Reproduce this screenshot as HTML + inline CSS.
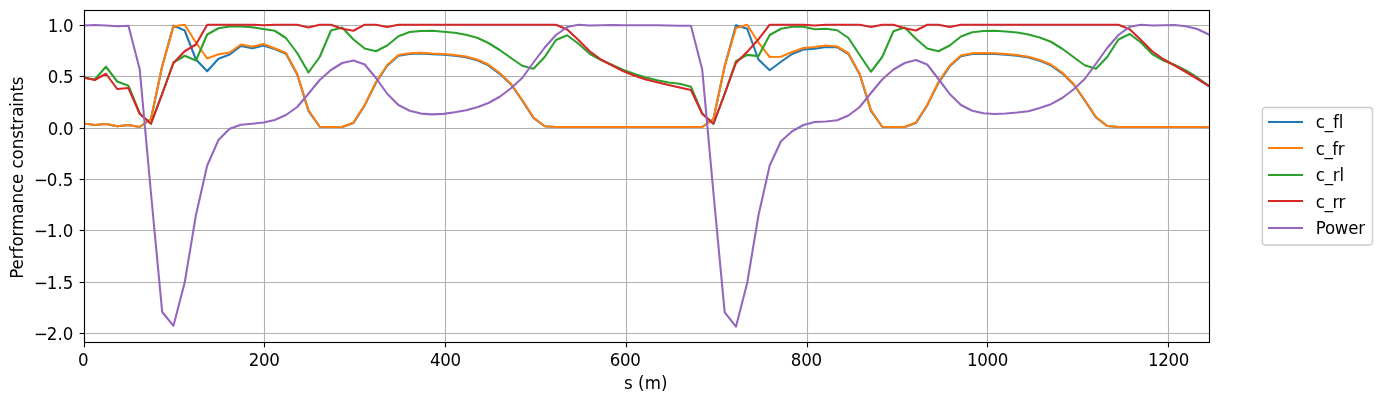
<!DOCTYPE html>
<html lang="en"><head><meta charset="utf-8"><title>Performance constraints</title>
<style>html,body{margin:0;padding:0;background:#fff;}body{width:1382px;height:403px;overflow:hidden;}svg{display:block;}text{font-family:"DejaVu Sans","Liberation Sans",sans-serif;font-size:16.667px;fill:#000;}</style>
</head><body>
<svg width="1382" height="403" viewBox="0 0 1382 403">
<rect x="0" y="0" width="1382" height="403" fill="#ffffff"/>
<defs><clipPath id="ax"><rect x="84.50" y="10.50" width="1125.00" height="332.00"/></clipPath></defs>
<g stroke="#b0b0b0" stroke-width="1.111" fill="none">
<line x1="84.50" y1="10.50" x2="84.50" y2="342.50"/>
<line x1="264.50" y1="10.50" x2="264.50" y2="342.50"/>
<line x1="445.50" y1="10.50" x2="445.50" y2="342.50"/>
<line x1="626.50" y1="10.50" x2="626.50" y2="342.50"/>
<line x1="807.50" y1="10.50" x2="807.50" y2="342.50"/>
<line x1="987.50" y1="10.50" x2="987.50" y2="342.50"/>
<line x1="1168.50" y1="10.50" x2="1168.50" y2="342.50"/>
<line x1="84.50" y1="25.50" x2="1209.50" y2="25.50"/>
<line x1="84.50" y1="76.50" x2="1209.50" y2="76.50"/>
<line x1="84.50" y1="128.50" x2="1209.50" y2="128.50"/>
<line x1="84.50" y1="179.50" x2="1209.50" y2="179.50"/>
<line x1="84.50" y1="230.50" x2="1209.50" y2="230.50"/>
<line x1="84.50" y1="282.50" x2="1209.50" y2="282.50"/>
<line x1="84.50" y1="333.50" x2="1209.50" y2="333.50"/>
</g>
<g stroke="#000" stroke-width="1.111" fill="none">
<line x1="84.50" y1="342.50" x2="84.50" y2="347.36"/>
<line x1="264.50" y1="342.50" x2="264.50" y2="347.36"/>
<line x1="445.50" y1="342.50" x2="445.50" y2="347.36"/>
<line x1="626.50" y1="342.50" x2="626.50" y2="347.36"/>
<line x1="807.50" y1="342.50" x2="807.50" y2="347.36"/>
<line x1="987.50" y1="342.50" x2="987.50" y2="347.36"/>
<line x1="1168.50" y1="342.50" x2="1168.50" y2="347.36"/>
<line x1="79.64" y1="25.50" x2="84.50" y2="25.50"/>
<line x1="79.64" y1="76.50" x2="84.50" y2="76.50"/>
<line x1="79.64" y1="128.50" x2="84.50" y2="128.50"/>
<line x1="79.64" y1="179.50" x2="84.50" y2="179.50"/>
<line x1="79.64" y1="230.50" x2="84.50" y2="230.50"/>
<line x1="79.64" y1="282.50" x2="84.50" y2="282.50"/>
<line x1="79.64" y1="333.50" x2="84.50" y2="333.50"/>
</g>
<g clip-path="url(#ax)" fill="none" stroke-width="2.083" stroke-linejoin="round" stroke-linecap="square">
<polyline stroke="#1f77b4" points="83.45,123.40 94.70,125.00 105.95,124.00 117.20,126.25 128.45,125.00 139.70,127.00 150.95,119.00 162.20,66.25 173.45,25.60 184.70,30.50 195.95,59.50 207.20,71.25 218.45,58.75 229.70,54.50 240.95,46.00 252.20,48.25 263.45,45.50 274.70,49.05 285.95,53.80 297.20,74.55 308.45,110.80 319.70,126.75 330.95,127.00 342.20,127.00 353.45,122.90 364.70,105.40 375.95,82.80 387.20,65.80 398.45,55.80 409.70,54.05 420.95,53.55 432.20,54.30 443.45,54.80 454.70,55.80 465.95,57.30 477.20,60.30 488.45,65.30 499.70,73.80 510.95,84.15 522.20,100.40 533.45,117.90 544.70,126.25 555.95,127.00 567.20,127.00 578.45,127.00 589.70,127.00 600.95,127.00 612.20,127.00 623.45,127.00 634.70,127.00 645.95,127.00 657.20,127.00 668.45,127.00 679.70,127.00 690.95,127.00 702.20,127.00 713.45,119.00 724.70,66.25 735.95,25.25 747.20,28.75 758.45,59.50 769.70,70.25 780.95,61.75 792.20,54.00 803.45,49.50 814.70,48.75 825.95,47.00 837.20,47.30 848.45,54.05 859.70,74.55 870.95,110.80 882.20,126.75 893.45,127.00 904.70,127.00 915.95,122.90 927.20,105.40 938.45,82.80 949.70,66.30 960.95,56.30 972.20,54.05 983.45,53.80 994.70,54.05 1005.95,54.80 1017.20,55.80 1028.45,57.55 1039.70,60.80 1050.95,65.30 1062.20,73.30 1073.45,84.15 1084.70,100.40 1095.95,117.40 1107.20,126.00 1118.45,127.00 1129.70,127.00 1140.95,127.00 1152.20,127.00 1163.45,127.00 1174.70,127.00 1185.95,127.00 1197.20,127.00 1208.45,127.00"/>
<polyline stroke="#ff7f0e" points="83.45,123.40 94.70,125.00 105.95,124.00 117.20,126.25 128.45,125.00 139.70,127.00 150.95,119.00 162.20,66.25 173.45,26.40 184.70,24.75 195.95,42.50 207.20,58.50 218.45,54.25 229.70,52.50 240.95,44.50 252.20,46.75 263.45,44.00 274.70,48.25 285.95,53.00 297.20,73.75 308.45,110.00 319.70,126.75 330.95,127.00 342.20,127.00 353.45,122.50 364.70,105.00 375.95,82.00 387.20,65.00 398.45,55.00 409.70,53.25 420.95,52.75 432.20,53.50 443.45,54.00 454.70,55.00 465.95,56.50 477.20,59.50 488.45,64.50 499.70,73.00 510.95,83.75 522.20,100.00 533.45,117.50 544.70,126.25 555.95,127.00 567.20,127.00 578.45,127.00 589.70,127.00 600.95,127.00 612.20,127.00 623.45,127.00 634.70,127.00 645.95,127.00 657.20,127.00 668.45,127.00 679.70,127.00 690.95,127.00 702.20,127.00 713.45,119.00 724.70,66.25 735.95,28.00 747.20,24.75 758.45,42.50 769.70,57.00 780.95,56.75 792.20,52.00 803.45,48.00 814.70,47.00 825.95,45.50 837.20,46.50 848.45,53.25 859.70,73.75 870.95,110.00 882.20,126.75 893.45,127.00 904.70,127.00 915.95,122.50 927.20,105.00 938.45,82.00 949.70,65.50 960.95,55.50 972.20,53.25 983.45,53.00 994.70,53.25 1005.95,54.00 1017.20,55.00 1028.45,56.75 1039.70,60.00 1050.95,64.50 1062.20,72.50 1073.45,83.75 1084.70,100.00 1095.95,117.00 1107.20,126.00 1118.45,127.00 1129.70,127.00 1140.95,127.00 1152.20,127.00 1163.45,127.00 1174.70,127.00 1185.95,127.00 1197.20,127.00 1208.45,127.00"/>
<polyline stroke="#2ca02c" points="83.45,77.50 94.70,79.50 105.95,66.75 117.20,81.50 128.45,85.75 139.70,113.50 150.95,123.75 162.20,93.50 173.45,62.50 184.70,55.75 195.95,60.50 207.20,34.50 218.45,28.25 229.70,26.50 240.95,26.50 252.20,27.25 263.45,29.00 274.70,30.75 285.95,38.00 297.20,53.00 308.45,72.50 319.70,57.00 330.95,30.50 342.20,27.50 353.45,39.50 364.70,48.50 375.95,51.25 387.20,45.50 398.45,36.25 409.70,32.00 420.95,31.00 432.20,30.75 443.45,31.75 454.70,32.75 465.95,34.75 477.20,37.75 488.45,43.00 499.70,50.00 510.95,58.00 522.20,65.75 533.45,68.75 544.70,57.00 555.95,40.00 567.20,35.25 578.45,43.75 589.70,53.75 600.95,60.00 612.20,65.00 623.45,70.00 634.70,74.00 645.95,77.50 657.20,80.25 668.45,82.50 679.70,83.75 690.95,86.75 702.20,113.50 713.45,123.75 724.70,93.50 735.95,61.25 747.20,54.85 758.45,56.10 769.70,35.00 780.95,28.75 792.20,26.75 803.45,26.75 814.70,29.25 825.95,28.75 837.20,30.25 848.45,38.00 859.70,55.00 870.95,71.75 882.20,57.00 893.45,31.25 904.70,27.50 915.95,38.75 927.20,48.50 938.45,51.25 949.70,45.50 960.95,36.50 972.20,32.25 983.45,31.00 994.70,30.75 1005.95,31.50 1017.20,32.50 1028.45,34.50 1039.70,37.50 1050.95,41.75 1062.20,48.75 1073.45,57.00 1084.70,65.25 1095.95,68.75 1107.20,57.00 1118.45,39.50 1129.70,34.00 1140.95,42.50 1152.20,54.00 1163.45,60.50 1174.70,65.00 1185.95,70.50 1197.20,77.50 1208.45,85.50"/>
<polyline stroke="#d62728" points="83.45,77.50 94.70,80.00 105.95,73.75 117.20,89.00 128.45,88.00 139.70,113.75 150.95,123.75 162.20,94.00 173.45,63.00 184.70,51.25 195.95,44.50 207.20,24.70 218.45,24.70 229.70,24.70 240.95,24.70 252.20,24.70 263.45,25.30 274.70,24.70 285.95,24.70 297.20,24.70 308.45,27.50 319.70,24.70 330.95,24.70 342.20,28.75 353.45,30.75 364.70,24.70 375.95,24.70 387.20,27.00 398.45,24.70 409.70,24.70 420.95,24.70 432.20,24.70 443.45,24.70 454.70,24.70 465.95,24.70 477.20,24.70 488.45,24.70 499.70,24.70 510.95,24.70 522.20,24.70 533.45,24.70 544.70,24.70 555.95,24.70 567.20,29.50 578.45,40.00 589.70,51.25 600.95,59.50 612.20,65.50 623.45,71.25 634.70,75.75 645.95,79.50 657.20,82.25 668.45,85.00 679.70,87.50 690.95,90.00 702.20,113.75 713.45,123.75 724.70,94.00 735.95,63.00 747.20,51.85 758.45,39.30 769.70,24.70 780.95,24.70 792.20,24.70 803.45,24.70 814.70,25.50 825.95,24.70 837.20,24.70 848.45,24.70 859.70,24.70 870.95,27.00 882.20,24.70 893.45,24.70 904.70,28.25 915.95,30.50 927.20,24.70 938.45,24.70 949.70,27.00 960.95,24.70 972.20,24.70 983.45,24.70 994.70,24.70 1005.95,24.70 1017.20,24.70 1028.45,24.70 1039.70,24.70 1050.95,24.70 1062.20,24.70 1073.45,24.70 1084.70,24.70 1095.95,24.70 1107.20,24.70 1118.45,24.70 1129.70,29.25 1140.95,40.00 1152.20,51.25 1163.45,59.25 1174.70,65.50 1185.95,72.00 1197.20,78.75 1208.45,85.75"/>
<polyline stroke="#9467bd" points="83.45,25.60 94.70,25.00 105.95,25.50 117.20,26.20 128.45,25.80 139.70,69.20 150.95,193.00 162.20,312.00 173.45,325.80 184.70,282.50 195.95,215.00 207.20,165.50 218.45,140.00 229.70,128.75 240.95,124.75 252.20,123.75 263.45,122.50 274.70,120.00 285.95,115.00 297.20,107.00 308.45,93.75 319.70,80.00 330.95,70.00 342.20,63.00 353.45,60.50 364.70,64.50 375.95,78.00 387.20,93.75 398.45,105.00 409.70,110.75 420.95,113.60 432.20,114.40 443.45,113.90 454.70,112.25 465.95,110.25 477.20,107.25 488.45,103.00 499.70,96.75 510.95,88.25 522.20,78.00 533.45,62.50 544.70,47.50 555.95,35.00 567.20,27.00 578.45,24.75 589.70,25.50 600.95,25.25 612.20,25.00 623.45,25.25 634.70,25.25 645.95,25.25 657.20,25.25 668.45,25.50 679.70,25.75 690.95,25.75 702.20,69.40 713.45,193.00 724.70,312.40 735.95,326.70 747.20,283.00 758.45,215.50 769.70,165.50 780.95,141.25 792.20,131.25 803.45,125.00 814.70,122.00 825.95,121.50 837.20,120.25 848.45,115.50 859.70,107.00 870.95,93.00 882.20,79.50 893.45,69.50 904.70,63.00 915.95,60.00 927.20,64.50 938.45,79.00 949.70,93.90 960.95,105.00 972.20,110.75 983.45,113.25 994.70,114.00 1005.95,113.50 1017.20,112.50 1028.45,111.20 1039.70,108.00 1050.95,104.20 1062.20,98.00 1073.45,89.50 1084.70,79.00 1095.95,63.75 1107.20,48.00 1118.45,35.00 1129.70,26.75 1140.95,24.75 1152.20,25.50 1163.45,25.25 1174.70,25.00 1185.95,26.25 1197.20,29.00 1208.45,34.25"/>
</g>
<rect x="84.50" y="10.50" width="1125.00" height="332.00" fill="none" stroke="#000" stroke-width="1.111" stroke-linejoin="miter"/>
<text transform="translate(78.00,366.00) scale(1,1.070)" style="letter-spacing:-0.330px">0</text>
<text transform="translate(248.82,366.00) scale(1,1.070)" style="letter-spacing:-0.330px">200</text>
<text transform="translate(429.97,366.00) scale(1,1.070)" style="letter-spacing:-0.330px">400</text>
<text transform="translate(609.77,366.00) scale(1,1.070)" style="letter-spacing:-0.330px">600</text>
<text transform="translate(790.86,366.00) scale(1,1.070)" style="letter-spacing:-0.330px">800</text>
<text transform="translate(967.05,366.00) scale(1,1.070)" style="letter-spacing:-0.330px">1000</text>
<text transform="translate(1147.93,366.00) scale(1,1.070)" style="letter-spacing:-0.330px">1200</text>
<text transform="translate(47.76,32.00) scale(1,1.070)" style="letter-spacing:-0.330px">1.0</text>
<text transform="translate(47.76,83.00) scale(1,1.070)" style="letter-spacing:-0.330px">0.5</text>
<text transform="translate(47.76,135.00) scale(1,1.070)" style="letter-spacing:-0.330px">0.0</text>
<text transform="translate(33.97,186.00) scale(1,1.070)" dx="0 -0.95 0.6 0.2" style="letter-spacing:-0.330px">−0.5</text>
<text transform="translate(33.97,237.00) scale(1,1.070)" dx="0 -0.95 0.6 0.2" style="letter-spacing:-0.330px">−1.0</text>
<text transform="translate(33.97,289.00) scale(1,1.070)" dx="0 -0.95 0.6 0.2" style="letter-spacing:-0.330px">−1.5</text>
<text transform="translate(33.97,340.00) scale(1,1.070)" dx="0 -0.95 0.6 0.2" style="letter-spacing:-0.330px">−2.0</text>
<text transform="translate(623.94,389.00) scale(1,1.090)" style="letter-spacing:0.100px">s (m)</text>
<text transform="translate(23.00,278.83) rotate(-90) scale(1,1.090)" style="letter-spacing:-0.047px">Performance constraints</text>
<rect x="1262.40" y="107.45" width="110.10" height="137.55" rx="3.33" ry="3.33" fill="#ffffff" fill-opacity="0.8" stroke="#cccccc" stroke-width="1.389"/>
<line x1="1269" y1="122.00" x2="1302" y2="122.00" stroke="#1f77b4" stroke-width="2.083" stroke-linecap="square"/>
<text transform="translate(1315.70,128.00) scale(1,1.090)" style="letter-spacing:-0.080px">c_fl</text>
<line x1="1269" y1="148.00" x2="1302" y2="148.00" stroke="#ff7f0e" stroke-width="2.083" stroke-linecap="square"/>
<text transform="translate(1315.70,155.00) scale(1,1.090)" style="letter-spacing:-0.410px">c_fr</text>
<line x1="1269" y1="175.00" x2="1302" y2="175.00" stroke="#2ca02c" stroke-width="2.083" stroke-linecap="square"/>
<text transform="translate(1315.70,181.00) scale(1,1.090)" style="letter-spacing:-0.180px">c_rl</text>
<line x1="1269" y1="201.00" x2="1302" y2="201.00" stroke="#d62728" stroke-width="2.083" stroke-linecap="square"/>
<text transform="translate(1315.70,208.00) scale(1,1.090)" style="letter-spacing:-0.380px">c_rr</text>
<line x1="1269" y1="228.00" x2="1302" y2="228.00" stroke="#9467bd" stroke-width="2.083" stroke-linecap="square"/>
<text transform="translate(1315.70,234.00) scale(1,1.090)" style="letter-spacing:-0.270px">Power</text>
</svg>
</body></html>
